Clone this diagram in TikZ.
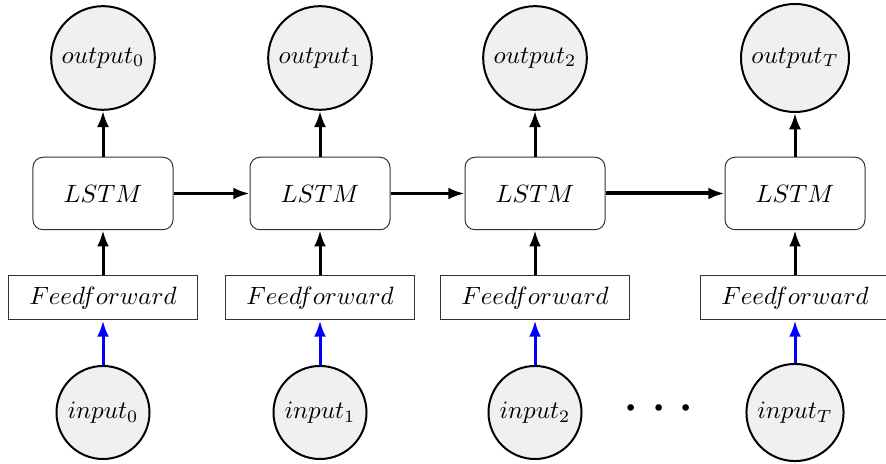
\documentclass[tikz,border=0pt]{standalone}
\usetikzlibrary{arrows.meta}
\tikzset{
  unit/.style={circle, thick, draw, fill=black!6, inner sep=3pt},
  cell/.style={rectangle, rounded corners=4pt, draw=black!80, minimum width=56pt, minimum height=29pt},
  ffbox/.style={rectangle, draw=black!80, minimum width=75.6pt, minimum height=17.6pt},
  flow/.style={-{Latex[length=6.5pt,width=4.8pt]}, very thick},
}
\begin{document}
\begin{tikzpicture}[x=0.4pt, y=-0.4pt]
    \useasboundingbox (0,0) rectangle (886,464);
    % top: outputs
    \node[unit] (out0) at (103,58) {$output_0$};
    \node[unit] (out1) at (320,58) {$output_1$};
    \node[unit] (out2) at (535,58) {$output_2$};
    \node[unit] (outT) at (795,58) {$output_T$};
    % recurrent cells
    \node[cell] (lstm0) at (103,193.5) {$LSTM$};
    \node[cell] (lstm1) at (320,193.5) {$LSTM$};
    \node[cell] (lstm2) at (535,193.5) {$LSTM$};
    \node[cell] (lstmT) at (795,193.5) {$LSTM$};
    % feedforward layers
    \node[ffbox] (ff0) at (103,298) {$Feedforward$};
    \node[ffbox] (ff1) at (320,298) {$Feedforward$};
    \node[ffbox] (ff2) at (535,298) {$Feedforward$};
    \node[ffbox] (ffT) at (795,298) {$Feedforward$};
    % bottom: inputs
    \node[unit] (in0) at (103,412.5) {$input_0$};
    \node[unit] (in1) at (320,412.5) {$input_1$};
    \node[unit] (in2) at (535,412.5) {$input_2$};
    \node[unit] (inT) at (795,412.5) {$input_T$};
    \node (dots) at (659,410) {\Huge$\cdots$};

    \draw[flow, blue] (in0) -- (ff0);
    \draw[flow, blue] (in1) -- (ff1);
    \draw[flow, blue] (in2) -- (ff2);
    \draw[flow, blue] (inT) -- (ffT);
    \draw[flow] (ff0) -- (lstm0);
    \draw[flow] (ff1) -- (lstm1);
    \draw[flow] (ff2) -- (lstm2);
    \draw[flow] (ffT) -- (lstmT);
    \draw[flow] (lstm0) -- (out0);
    \draw[flow] (lstm1) -- (out1);
    \draw[flow] (lstm2) -- (out2);
    \draw[flow] (lstmT) -- (outT);
    \draw[flow] (lstm0) -- (lstm1);
    \draw[flow] (lstm1) -- (lstm2);
    \draw[flow, ultra thick] (lstm2) -- (lstmT);
  \end{tikzpicture}
\end{document}
